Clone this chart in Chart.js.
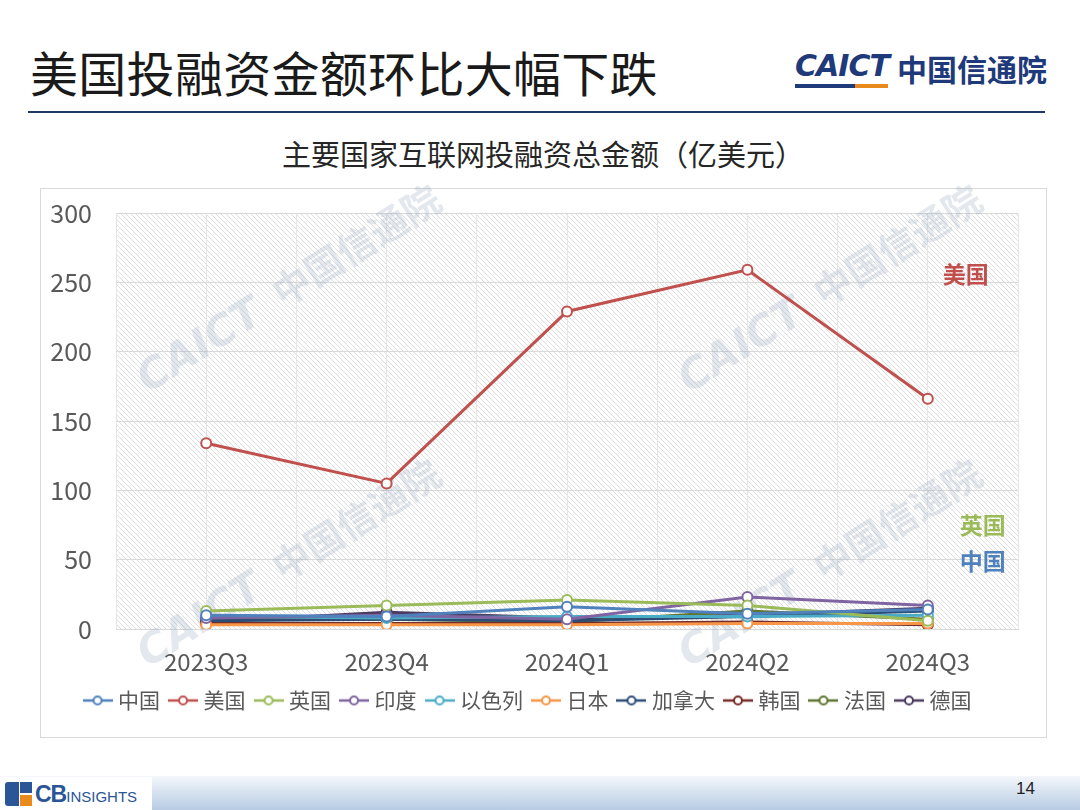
<!DOCTYPE html>
<html>
<head>
<meta charset="utf-8">
<script src="https://cdn.jsdelivr.net/npm/chart.js@4.4.1/dist/chart.umd.min.js"></script>
<style>
    html, body { margin: 0; padding: 0; }
    body {
        width: 1080px; height: 810px; position: relative; overflow: hidden;
        background: #fff; font-family: "Noto Sans CJK SC", "Noto Sans", sans-serif;
    }
    .page-title { position: absolute; left: 30px; top: 36px; font-size: 48px; color: #1a1a1a; letter-spacing: 0.3px; }
    .rule { position: absolute; left: 28px; top: 111px; width: 1017px; height: 2px; background: #1f3864; }
    .logo { position: absolute; left: 795px; top: 48px; height: 40px; }
    .logo .en { position: absolute; left: 0; top: 0; font-family: "DejaVu Sans", sans-serif; font-weight: bold; font-style: italic; font-size: 30px; color: #1f3a7a; letter-spacing: -1px; }
    .logo .bar1 { position: absolute; left: 0; top: 36px; width: 60px; height: 4px; background: #1f3a7a; }
    .logo .bar2 { position: absolute; left: 60px; top: 36px; width: 33px; height: 4px; background: #e98a1c; }
    .logo .cn { position: absolute; left: 102px; top: -2px; font-weight: bold; font-size: 30px; color: #1f3a7a; white-space: nowrap; }
    .chart-title { position: absolute; left: 0; width: 1086px; top: 132px; text-align: center; font-size: 29px; color: #262626; }
    .chart-box { position: absolute; left: 40px; top: 188px; width: 1005px; height: 548px; border: 1px solid #d9d9d9; }
    #invest-chart { position: absolute; left: 41px; top: 174px; }
    .footer { position: absolute; left: 0; top: 776px; width: 1080px; height: 34px; background: linear-gradient(to bottom, #f4f7fb, #b7cbe3); }
    .cb { position: absolute; left: 0; top: 777px; width: 152px; height: 33px; background: #fff; }
    .cb .sq1 { position: absolute; left: 5px; top: 5px; width: 14px; height: 24px; background: #2a5597; border-radius: 3px 0 0 3px; }
    .cb .sq2 { position: absolute; left: 20px; top: 5px; width: 12px; height: 11px; background: #2a5597; }
    .cb .sq3 { position: absolute; left: 20px; top: 18px; width: 12px; height: 11px; background: #e98a1c; }
    .cb .txt { position: absolute; left: 35px; top: 4px; font-family: "Liberation Sans Narrow", "Liberation Sans", sans-serif; font-size: 15px; color: #2a5597; white-space: nowrap; }
    .cb .txt b { font-size: 23px; letter-spacing: -1px; }
    .pagenum { position: absolute; left: 1016px; top: 779px; font-family: "Liberation Sans Narrow", "Liberation Sans", sans-serif; font-size: 17px; color: #222; }
</style>
</head>
<body>
<div class="page-title">美国投融资金额环比大幅下跌</div>
<div class="logo"><span class="en">CAICT</span><div class="bar1"></div><div class="bar2"></div><span class="cn">中国信通院</span></div>
<div class="rule"></div>
<div class="chart-title">主要国家互联网投融资总金额（亿美元）</div>
<div class="chart-box"></div>
<canvas id="invest-chart" width="1005" height="563"></canvas>
<div class="footer"></div>
<div class="cb"><div class="sq1"></div><div class="sq2"></div><div class="sq3"></div><span class="txt"><b>CB</b>INSIGHTS</span></div>
<div class="pagenum">14</div>

<script>
// Quarter labels and y ticks
const quarters = ['2023Q3', '2023Q4', '2024Q1', '2024Q2', '2024Q3'];
const yMin = 0, yMax = 300, yStep = 50;

// Financing amount per country (亿美元)
const china   = [10, 9, 16, 11, 14];
const usa     = [134, 105, 229, 259, 166];
const uk      = [13, 17, 21, 17, 6];
const india   = [8, 10, 7, 23, 17];
const israel  = [9, 8, 9, 9, 10];
const japan   = [3, 3, 3, 4, 4];
const canada  = [6, 7, 6, 9, 13];
const korea   = [4, 4, 4, 5, 3];
const france  = [7, 7, 5, 13, 7];
const germany = [5, 12, 8, 10, 15];

// Inline labels next to the last points
const callouts = [
    { text: '美国', value: 256, color: '#c0504d', dx: 15 },
    { text: '英国', value: 75, color: '#9bbb59', dx: 32 },
    { text: '中国', value: 49, color: '#4f81bd', dx: 32 }
];

const series = [
    { name: '中国', data: china, color: '#4f81bd' },
    { name: '美国', data: usa, color: '#c0504d' },
    { name: '英国', data: uk, color: '#9bbb59' },
    { name: '印度', data: india, color: '#8064a2' },
    { name: '以色列', data: israel, color: '#4bacc6' },
    { name: '日本', data: japan, color: '#f79646' },
    { name: '加拿大', data: canada, color: '#2c4d75' },
    { name: '韩国', data: korea, color: '#772c2a' },
    { name: '法国', data: france, color: '#5f7530' },
    { name: '德国', data: germany, color: '#4d3b62' }
];

// Legend marker: short line with a hollow circle
function legendMarker(color) {
    const c = document.createElement('canvas');
    c.width = 30; c.height = 12;
    const g = c.getContext('2d');
    g.strokeStyle = color;
    g.lineWidth = 2.5;
    g.beginPath(); g.moveTo(0, 6); g.lineTo(30, 6); g.stroke();
    g.fillStyle = '#fff';
    g.lineWidth = 2;
    g.beginPath(); g.arc(15, 6, 4, 0, Math.PI * 2); g.fill(); g.stroke();
    return c;
}

// Diagonal hatch for the plot area
function hatchPattern(ctx) {
    const p = document.createElement('canvas');
    p.width = 5; p.height = 5;
    const g = p.getContext('2d');
    g.fillStyle = '#ffffff';
    g.fillRect(0, 0, 5, 5);
    g.strokeStyle = '#dedede';
    g.lineWidth = 1;
    g.beginPath();
    g.moveTo(0, 0); g.lineTo(5, 5);
    g.moveTo(-1, 4); g.lineTo(1, 6);
    g.moveTo(4, -1); g.lineTo(6, 1);
    g.stroke();
    return ctx.createPattern(p, 'repeat');
}

const plotBackground = {
    id: 'plotBackground',
    beforeDraw(chart) {
        const { ctx, chartArea: a } = chart;
        ctx.save();
        ctx.fillStyle = hatchPattern(ctx);
        ctx.fillRect(a.left, a.top, a.right - a.left, a.bottom - a.top);
        ctx.restore();
    }
};

// Faint CAICT watermarks behind the lines
const watermark = {
    id: 'watermark',
    beforeDatasetsDraw(chart) {
        const { ctx, chartArea: a } = chart;
        const w = a.right - a.left, h = a.bottom - a.top;
        const spots = [[0.17, 0.22], [0.77, 0.22], [0.17, 0.88], [0.77, 0.88]];
        ctx.save();
        spots.forEach(([fx, fy]) => {
            ctx.save();
            ctx.translate(a.left + w * fx, a.top + h * fy);
            ctx.rotate(-0.56);
            ctx.font = 'italic bold 42px "DejaVu Sans"';
            ctx.fillStyle = 'rgba(140, 155, 185, 0.24)';
            ctx.textBaseline = 'middle';
            ctx.fillText('CAICT', -150, 0);
            ctx.font = 'bold 38px "Noto Sans CJK SC"';
            ctx.fillText('中国信通院', 10, -4);
            ctx.restore();
        });
        ctx.restore();
    }
};

const calloutLabels = {
    id: 'calloutLabels',
    afterDatasetsDraw(chart) {
        const { ctx } = chart;
        const x = chart.scales.x.getPixelForValue(quarters.length - 1);
        ctx.save();
        ctx.font = 'bold 23px "Noto Sans CJK SC"';
        ctx.textBaseline = 'middle';
        ctx.textAlign = 'left';
        callouts.forEach(c => {
            ctx.fillStyle = c.color;
            ctx.fillText(c.text, x + c.dx, chart.scales.y.getPixelForValue(c.value));
        });
        ctx.restore();
    }
};

new Chart(document.getElementById('invest-chart'), {
    type: 'line',
    data: {
        labels: quarters,
        datasets: series.map(s => ({
            label: s.name,
            data: s.data,
            borderColor: s.color,
            backgroundColor: '#ffffff',
            borderWidth: 3,
            pointStyle: 'circle',
            pointRadius: 5,
            pointBorderWidth: 2,
            pointBackgroundColor: '#ffffff',
            pointBorderColor: s.color,
            tension: 0,
            legendMarker: legendMarker(s.color)
        }))
    },
    plugins: [plotBackground, watermark, calloutLabels],
    options: {
        responsive: false,
        animation: false,
        layout: { padding: { left: 0, right: 28, top: 0, bottom: 16 } },
        plugins: {
            legend: {
                position: 'bottom',
                labels: {
                    usePointStyle: true,
                    pointStyleWidth: 20,
                    padding: 13,
                    color: '#595959',
                    font: { size: 21, family: '"Noto Sans CJK SC"' },
                    generateLabels(chart) {
                        return chart.data.datasets.map((d, i) => ({
                            text: d.label,
                            fillStyle: '#fff',
                            strokeStyle: d.borderColor,
                            lineWidth: 0,
                            pointStyle: d.legendMarker,
                            fontColor: '#595959',
                            datasetIndex: i,
                            hidden: false
                        }));
                    }
                }
            },
            tooltip: { enabled: false }
        },
        scales: {
            x: {
                offset: true,
                grid: { display: false },
                border: { color: '#d9d9d9', width: 1 },
                ticks: { color: '#595959', font: { size: 24, family: '"Noto Sans CJK SC"' }, padding: 10 },
                afterFit(scale) { scale.height = 48; }
            },
            xGrid: {
                type: 'category',
                position: 'bottom',
                labels: ['', '', '', '', '', '', '', '', '', ''],
                offset: true,
                display: true,
                grid: { color: '#e6e6e6', offset: true, drawTicks: false },
                border: { display: false },
                ticks: { display: false },
                afterFit(scale) { scale.height = 0; }
            },
            y: {
                min: yMin,
                max: yMax,
                ticks: {
                    stepSize: yStep,
                    color: '#595959',
                    font: { size: 25, family: '"Noto Sans CJK SC"' },
                    padding: 24
                },
                grid: { color: '#d9d9d9', drawTicks: false },
                border: { display: false },
                afterFit(scale) { scale.width = 75; }
            }
        }
    }
});
</script>
</body>
</html>
